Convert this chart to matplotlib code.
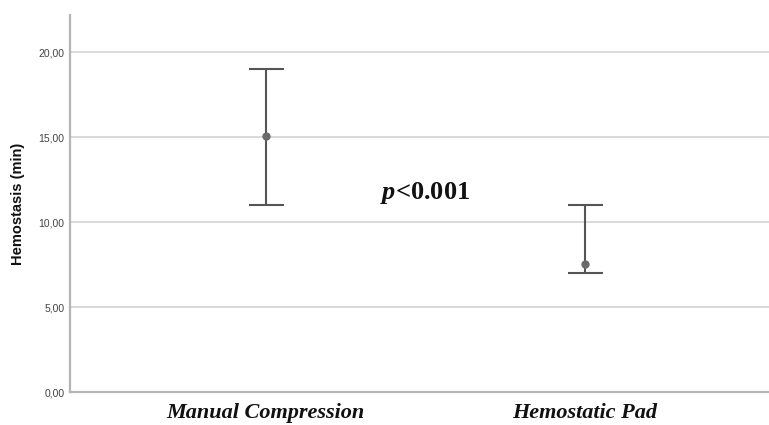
import matplotlib
matplotlib.use("Agg")
import matplotlib.pyplot as plt

plt.rcParams["mathtext.fontset"] = "custom"
plt.rcParams["mathtext.it"] = "Liberation Serif:italic:bold"
plt.rcParams["mathtext.rm"] = "Liberation Serif:bold"

groups = ["Manual Compression", "Hemostatic Pad"]
means = [15.05, 7.55]
upper = [19.0, 11.0]
lower = [11.0, 7.0]
yticks = [0, 5, 10, 15, 20]
ytick_labels = ["0,00", "5,00", "10,00", "15,00", "20,00"]

fig = plt.figure(figsize=(7.69, 4.25), dpi=100)
ax = fig.add_axes([0.091, 0.0776, 0.909, 0.8874])

x = list(range(len(groups)))
yerr = [[m - l for m, l in zip(means, lower)], [u - m for m, u in zip(means, upper)]]
ax.errorbar(x, means, yerr=yerr, fmt="o", color="#6a6a6a", ecolor="#555555",
            elinewidth=1.5, capsize=12.6, capthick=1.5, markersize=5, zorder=3)

ax.set_xlim(-0.614, 1.577)
ax.set_ylim(0, 22.2)
ax.set_yticks(yticks)
ax.set_yticklabels(ytick_labels, fontfamily="Liberation Sans", fontsize=7.5, color="#444444")
ax.set_xticks(x)
ax.set_xticklabels(groups, fontfamily="Liberation Serif", fontsize=16,
                   fontweight="bold", fontstyle="italic", color="#111111")
ax.tick_params(axis="both", length=0)
ax.tick_params(axis="y", pad=4)
ax.tick_params(axis="x", pad=8)
ax.yaxis.grid(True, color="#d9d9d9", linewidth=1.4)
ax.set_axisbelow(True)
for s in ["top", "right"]:
    ax.spines[s].set_visible(False)
ax.spines["left"].set_color("#b5b5b5")
ax.spines["left"].set_linewidth(1.6)
ax.spines["bottom"].set_color("#b5b5b5")
ax.spines["bottom"].set_linewidth(1.6)

ax.set_ylabel("Hemostasis (min)", fontfamily="Liberation Sans", fontsize=10.5,
              fontweight="bold", color="#111111", labelpad=10)

ax.text(0.5, 11.7, r"$\mathit{p}$<0.001", ha="center", va="center",
        fontsize=19, fontweight="bold", fontfamily="Liberation Serif", color="#111111")

fig.savefig("out.png", dpi=100)
